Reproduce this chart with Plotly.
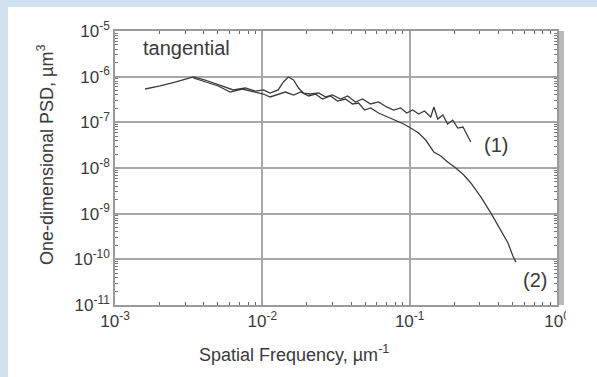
import plotly.graph_objects as go

# ---- data ----
freq1 = [1.60e-3, 2.02e-3, 2.56e-3, 3.40e-3, 4.09e-3, 5.18e-3, 6.35e-3, 7.66e-3, 8.96e-3,
         1.016e-2, 1.13e-2, 1.28e-2, 1.39e-2, 1.50e-2, 1.63e-2, 1.76e-2, 1.90e-2, 2.12e-2,
         2.41e-2, 2.69e-2, 2.99e-2, 3.40e-2, 3.79e-2, 4.29e-2, 4.79e-2, 5.43e-2, 6.15e-2,
         6.98e-2, 7.79e-2, 8.69e-2, 9.55e-2, 0.105, 0.115, 0.126, 0.139, 0.146, 0.155,
         0.168, 0.181, 0.196, 0.212, 0.230, 0.244, 0.260]
psd1 = [5.37e-7, 6.25e-7, 7.64e-7, 9.84e-7, 8.45e-7, 6.57e-7, 5.11e-7, 5.65e-7, 4.85e-7,
        5.11e-7, 4.38e-7, 5.11e-7, 7.64e-7, 9.84e-7, 8.45e-7, 5.65e-7, 4.38e-7, 4.17e-7,
        4.38e-7, 3.59e-7, 3.97e-7, 3.24e-7, 3.78e-7, 2.79e-7, 3.24e-7, 2.52e-7, 2.79e-7,
        2.17e-7, 1.86e-7, 2.06e-7, 1.60e-7, 1.86e-7, 1.52e-7, 1.77e-7, 1.31e-7, 2.17e-7,
        1.18e-7, 1.45e-7, 9.2e-8, 1.12e-7, 7.5e-8, 7.9e-8, 5.3e-8, 3.7e-8]

freq2 = [3.40e-3, 4.09e-3, 5.02e-3, 6.05e-3, 7.31e-3, 8.96e-3, 1.016e-2, 1.13e-2, 1.28e-2,
         1.43e-2, 1.63e-2, 1.82e-2, 2.06e-2, 2.29e-2, 2.56e-2, 2.90e-2, 3.24e-2, 3.67e-2,
         4.09e-2, 4.50e-2, 4.94e-2, 5.43e-2, 6.15e-2, 7.08e-2, 8.03e-2, 9.10e-2, 0.1016,
         0.115, 0.1285, 0.146, 0.1626, 0.181, 0.2056, 0.233, 0.260, 0.304, 0.356, 0.416,
         0.465, 0.502, 0.526]
psd2 = [9.35e-7, 7.64e-7, 6.25e-7, 4.61e-7, 5.37e-7, 4.61e-7, 4.17e-7, 3.59e-7, 4.17e-7,
        4.61e-7, 3.97e-7, 4.61e-7, 3.78e-7, 4.17e-7, 3.24e-7, 3.78e-7, 2.93e-7, 3.24e-7,
        2.52e-7, 2.65e-7, 1.86e-7, 2.06e-7, 1.60e-7, 1.31e-7, 1.12e-7, 9.2e-8, 7.5e-8,
        5.85e-8, 4.10e-8, 2.24e-8, 1.83e-8, 1.35e-8, 1.0e-8, 7.0e-9, 4.7e-9, 2.32e-9,
        1.03e-9, 4.39e-10, 2.28e-10, 1.18e-10, 8.7e-11]

x_tick_vals = [1e-3, 1e-2, 1e-1, 1e0]
x_tick_text = ["10<sup>-3</sup>", "10<sup>-2</sup>", "10<sup>-1</sup>", "10<sup>0</sup>"]
y_tick_vals = [1e-11, 1e-10, 1e-9, 1e-8, 1e-7, 1e-6, 1e-5]
y_tick_text = ["10<sup>-11</sup>", "10<sup>-10</sup>", "10<sup>-9</sup>", "10<sup>-8</sup>",
               "10<sup>-7</sup>", "10<sup>-6</sup>", "10<sup>-5</sup>"]

x_minor = [k * 10.0 ** d for d in (-3, -2, -1) for k in range(2, 10)]
y_minor = [k * 10.0 ** d for d in range(-11, -5) for k in range(2, 10)]

W, H = 597, 377
L, R, T, B = 115, 40, 31, 72
PW, PH = W - L - R, H - T - B


def px(x):
    return (x - L) / PW


def py(y):
    return (H - B - y) / PH


FONT = "Liberation Sans, Arial, sans-serif"
TXT = "#3a3a3a"
LINE = "#3c3c3c"
GRID = "#a8a8a8"
BLUE = "#d2e1f0"

fig = go.Figure()
fig.add_trace(go.Scatter(x=freq1, y=psd1, mode="lines",
                         line=dict(color=LINE, width=1.3), showlegend=False))
fig.add_trace(go.Scatter(x=freq2, y=psd2, mode="lines",
                         line=dict(color=LINE, width=1.3), showlegend=False))

axis_common = dict(
    showline=True, linecolor="#9a9a9a", linewidth=1.5, mirror="ticks",
    showgrid=True, gridcolor=GRID, gridwidth=1.5,
    ticks="inside", ticklen=4, tickcolor="#9a9a9a",
    tickfont=dict(family=FONT, size=17, color=TXT),
    zeroline=False,
)

fig.update_xaxes(type="log", range=[-3, 0], tickmode="array",
                 tickvals=x_tick_vals, ticktext=x_tick_text,
                 minor=dict(tickmode="array", tickvals=x_minor, ticks="inside",
                            ticklen=3, tickcolor="#666666", showgrid=False),
                 **axis_common)
fig.update_yaxes(type="log", range=[-11, -5], tickmode="array",
                 tickvals=y_tick_vals, ticktext=y_tick_text,
                 minor=dict(tickmode="array", tickvals=y_minor, ticks="inside",
                            ticklen=3, tickcolor="#777777", showgrid=False),
                 **axis_common)

shapes = [
    # light-blue frame strips (left and top)
    dict(type="rect", xref="paper", yref="paper", layer="below",
         x0=px(0), x1=px(8), y0=py(H), y1=py(0),
         fillcolor=BLUE, line=dict(width=0)),
    dict(type="rect", xref="paper", yref="paper", layer="below",
         x0=px(0), x1=px(W), y0=py(7), y1=py(0),
         fillcolor=BLUE, line=dict(width=0)),
    # thick grey right border of the frame
    dict(type="rect", xref="paper", yref="paper", layer="below",
         x0=px(557), x1=px(564), y0=0, y1=1,
         fillcolor="#b8b8b8", line=dict(width=0)),
    # picture edge cropping the last tick label
    dict(type="rect", xref="paper", yref="paper", layer="above",
         x0=px(566), x1=px(W), y0=py(348), y1=py(309),
         fillcolor="white", line=dict(width=0)),
]

annotations = [
    dict(text="tangential", x=px(186), y=py(48), size=20),
    dict(text="(1)", x=px(496), y=py(145), size=20),
    dict(text="(2)", x=px(535), y=py(280), size=20),
    dict(text="Spatial Frequency, µm<sup>-1</sup>", x=px(294), y=py(353), size=18),
    dict(text="One-dimensional PSD, µm<sup>3</sup>", x=px(45), y=py(155), size=18,
         textangle=-90),
]
for a in annotations:
    s = a.pop("size")
    a.update(xref="paper", yref="paper", showarrow=False, xanchor="center",
             yanchor="middle", font=dict(family=FONT, size=s, color=TXT))

fig.update_layout(
    width=W, height=H, autosize=False,
    margin=dict(l=L, r=R, t=T, b=B, autoexpand=False),
    paper_bgcolor="white", plot_bgcolor="white",
    shapes=shapes, annotations=annotations,
    font=dict(family=FONT, color=TXT),
)

fig.write_html("out.html",
               config={"displayModeBar": False},
               post_script="document.body.style.margin='0';"
                           "document.body.style.overflow='hidden';"
                           "document.documentElement.style.overflow='hidden';"
                           "document.body.style.background='white';")
